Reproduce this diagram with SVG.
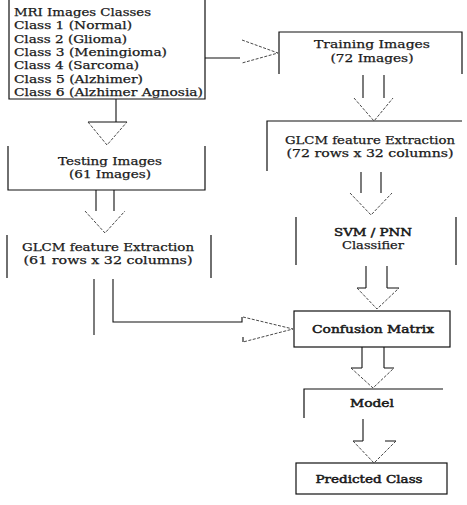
<svg xmlns="http://www.w3.org/2000/svg" width="467" height="505" viewBox="0 0 467 505">
<style>
.b{fill:none;stroke:#111;stroke-width:1.2}
.c{fill:none;stroke:#111;stroke-width:1.1}
.d{fill:none;stroke:#333;stroke-width:0.9;stroke-dasharray:3 1.5}
text{font-family:"DejaVu Serif","Liberation Serif",serif;font-size:11px;fill:#1a1a1a;stroke:#1a1a1a;stroke-width:0.25}
.m{text-anchor:middle}
.k{stroke-width:0.5}
</style>
<rect width="467" height="505" fill="#fff"/>
<g id="mri-classes">
<path class="b" d="M9,0 V99 H205 V0"/>
<text x="14" y="16" textLength="137" lengthAdjust="spacingAndGlyphs">MRI Images Classes</text>
<text x="14" y="29" textLength="118" lengthAdjust="spacingAndGlyphs">Class 1 (Normal)</text>
<text x="14" y="42.5" textLength="113" lengthAdjust="spacingAndGlyphs">Class 2 (Glioma)</text>
<text x="14" y="56" textLength="153" lengthAdjust="spacingAndGlyphs">Class 3 (Meningioma)</text>
<text x="14" y="69" textLength="125" lengthAdjust="spacingAndGlyphs">Class 4 (Sarcoma)</text>
<text x="14" y="82.5" textLength="129" lengthAdjust="spacingAndGlyphs">Class 5 (Alzhimer)</text>
<text x="14" y="96" textLength="189" lengthAdjust="spacingAndGlyphs">Class 6 (Alzhimer Agnosia)</text>
</g>
<g id="training-images">
<path class="b" d="M279,74 V32 H462 V74"/>
<text class="m" x="372" y="48" textLength="116" lengthAdjust="spacingAndGlyphs">Training  Images</text>
<text class="m" x="372" y="62" textLength="83" lengthAdjust="spacingAndGlyphs">(72 Images)</text>
</g>
<g id="glcm-train">
<path class="b" d="M267,171 V121 H462"/>
<text class="m" x="370" y="144" textLength="170" lengthAdjust="spacingAndGlyphs">GLCM feature Extraction</text>
<text class="m" x="370" y="157" textLength="167" lengthAdjust="spacingAndGlyphs">(72 rows x 32 columns)</text>
</g>
<g id="classifier">
<path class="b" d="M296,217 V265 M456,217 V265"/>
<text class="m k" x="373" y="236" textLength="78" lengthAdjust="spacingAndGlyphs">SVM / PNN</text>
<text class="m" x="373" y="249" textLength="62" lengthAdjust="spacingAndGlyphs">Classifier</text>
</g>
<g id="testing-images">
<path class="b" d="M8,146 V190 H205 V146"/>
<text class="m" x="110" y="165" textLength="104" lengthAdjust="spacingAndGlyphs">Testing Images</text>
<text class="m" x="110" y="178" textLength="82" lengthAdjust="spacingAndGlyphs">(61 Images)</text>
</g>
<g id="glcm-test">
<path class="b" d="M7,235 V278 M211,235 V278"/>
<text class="m" x="108" y="251" textLength="172" lengthAdjust="spacingAndGlyphs">GLCM feature Extraction</text>
<text class="m" x="108" y="264" textLength="169" lengthAdjust="spacingAndGlyphs">(61 rows x 32 columns)</text>
</g>
<g id="confusion-matrix">
<rect class="b" x="294" y="311" width="156" height="36"/>
<text class="m k" x="373" y="333" textLength="122" lengthAdjust="spacingAndGlyphs">Confusion Matrix</text>
</g>
<g id="model">
<path class="b" d="M304,418 V389 H443"/>
<text class="m k" x="372" y="407" textLength="44" lengthAdjust="spacingAndGlyphs">Model</text>
</g>
<g id="predicted-class">
<rect class="b" x="296" y="463" width="151" height="31"/>
<text class="m k" x="369" y="483" textLength="107" lengthAdjust="spacingAndGlyphs">Predicted Class</text>
</g>
<g id="connectors">
<path class="c" d="M205,58 H240"/>
<path class="d" d="M242,40 L278,53 L242,63"/>
<path class="c" d="M116,99 V122 M88,122 H127"/>
<path class="d" d="M88,122 L107,145 L127,122"/>
<path class="c" d="M363,75 V98 M384,75 V98"/>
<path class="d" d="M354,98 L374,121 L393,98"/>
<path class="c" d="M361,172 V193 M381,172 V193"/>
<path class="d" d="M350,193 L371,215 L392,193"/>
<path class="c" d="M96,190 V211 M114,190 V211"/>
<path class="d" d="M85,211 L105,233 L125,211"/>
<path class="c" d="M94,279 V335 M113,279 V322 H242 V317 M243,337 V342"/>
<path class="d" d="M243,317 L293,329 L243,342"/>
<path class="c" d="M366,266 V288 M387,266 V288 M357,288 H366 M387,288 H399"/>
<path class="d" d="M357,288 L377,309 L399,288"/>
<path class="c" d="M362,347 V368 M384,347 V368 M351,368 H362 M384,368 H394"/>
<path class="d" d="M351,368 L373,388 L394,368"/>
<path class="c" d="M363,419 V441 M353,441 H363 M385,441 H396"/>
<path class="d" d="M353,441 L374,463 L396,441"/>
</g>
</svg>
